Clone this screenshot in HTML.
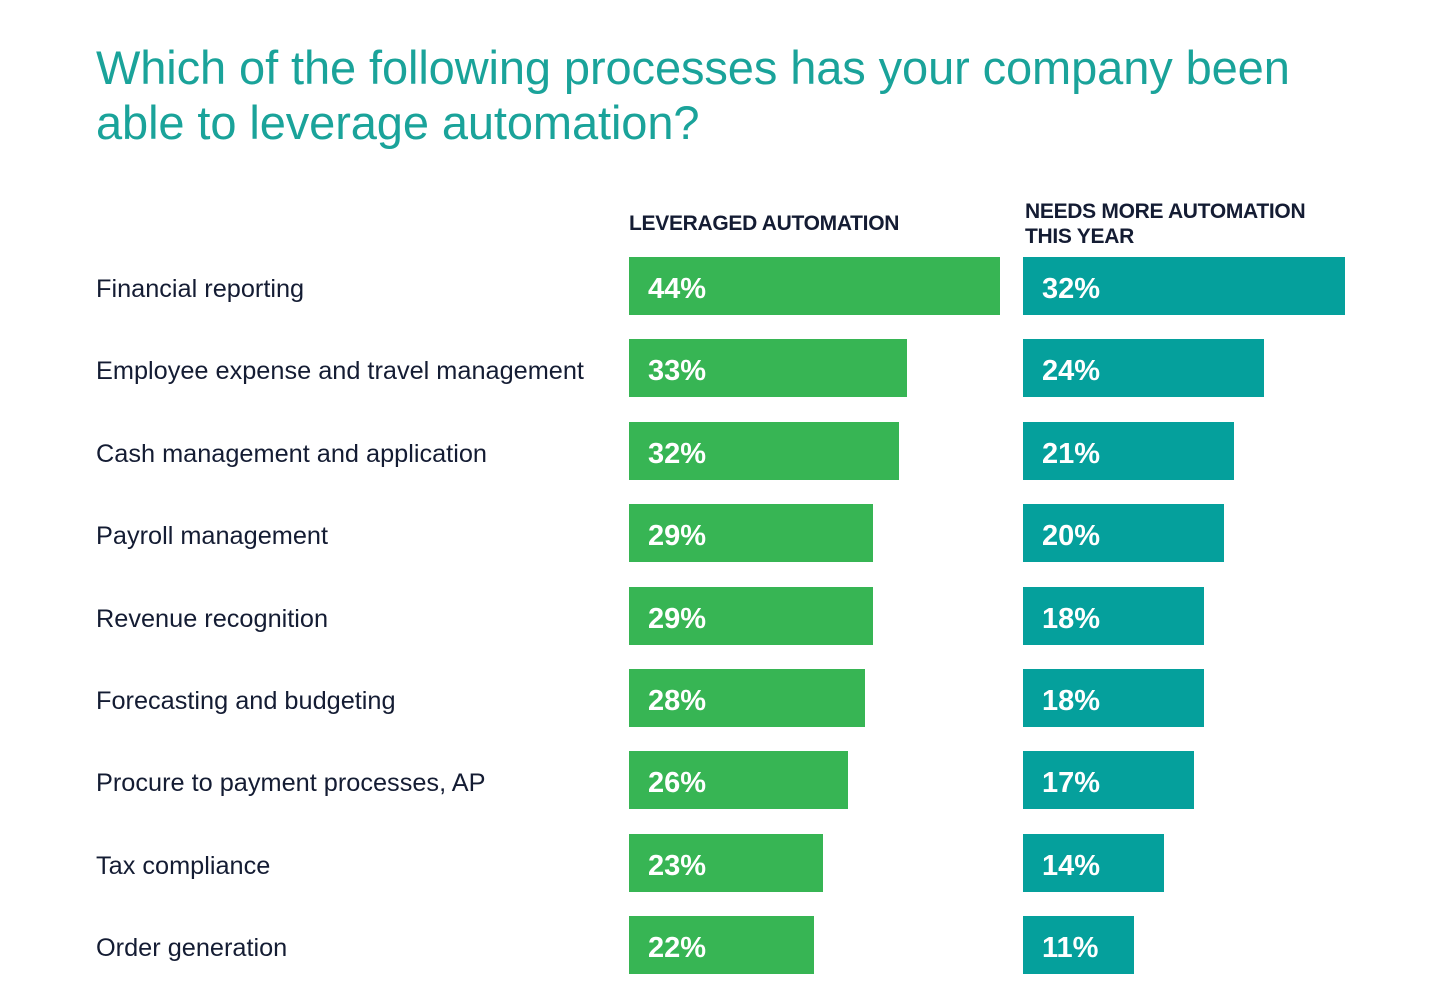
<!DOCTYPE html>
<html><head><meta charset="utf-8"><style>
html,body{margin:0;padding:0;background:#fff;width:1439px;height:1007px;overflow:hidden;font-family:"Liberation Sans",sans-serif;}
#title{position:absolute;left:96px;top:40px;font-size:47px;line-height:55px;color:#1aa39a;font-weight:normal;letter-spacing:-0.1px;margin:0;}
.hdr{position:absolute;font-size:21px;font-weight:bold;color:#141c33;line-height:25px;letter-spacing:-0.3px;}
.lbl{position:absolute;left:96px;font-size:25.3px;color:#141c33;}
.bar{position:absolute;height:58px;}
.val{position:absolute;color:#fff;font-weight:bold;font-size:29px;line-height:58px;padding-left:19px;top:3px;}
</style></head><body>
<h1 id="title">Which of the following processes has your company been<br>able to leverage automation?</h1>
<div class="hdr" style="left:629px;top:211px">LEVERAGED AUTOMATION</div>
<div class="hdr" style="left:1025px;top:199px">NEEDS MORE AUTOMATION<br>THIS YEAR</div>
<div id="chart"></div>
<script>
const categories=["Financial reporting","Employee expense and travel management","Cash management and application","Payroll management","Revenue recognition","Forecasting and budgeting","Procure to payment processes, AP","Tax compliance","Order generation"];
const leveraged=[44,33,32,29,29,28,26,23,22];
const needsMore=[32,24,21,20,18,18,17,14,11];
const c=document.getElementById('chart');
const rowY=i=>257+i*82.4;
const xL=v=>v*8.43, xN=v=>v*10.06;
categories.forEach((cat,i)=>{
  const y=rowY(i);
  const l=document.createElement('div');l.className='lbl';l.style.top=(y+18)+'px';l.textContent=cat;
  
  
  c.appendChild(l);
  const b1=document.createElement('div');b1.className='bar';b1.style.cssText+=`left:629px;top:${y}px;width:${xL(leveraged[i])}px;background:#37b554`;
  
  
  const t1=document.createElement('div');t1.className='val';t1.textContent=leveraged[i]+'%';
  
  
  b1.appendChild(t1);c.appendChild(b1);
  const b2=document.createElement('div');b2.className='bar';b2.style.cssText+=`left:1023px;top:${y}px;width:${xN(needsMore[i])}px;background:#05a09c`;
  
  
  const t2=document.createElement('div');t2.className='val';t2.textContent=needsMore[i]+'%';
  
  
  b2.appendChild(t2);c.appendChild(b2);
});
</script>
</body></html>
